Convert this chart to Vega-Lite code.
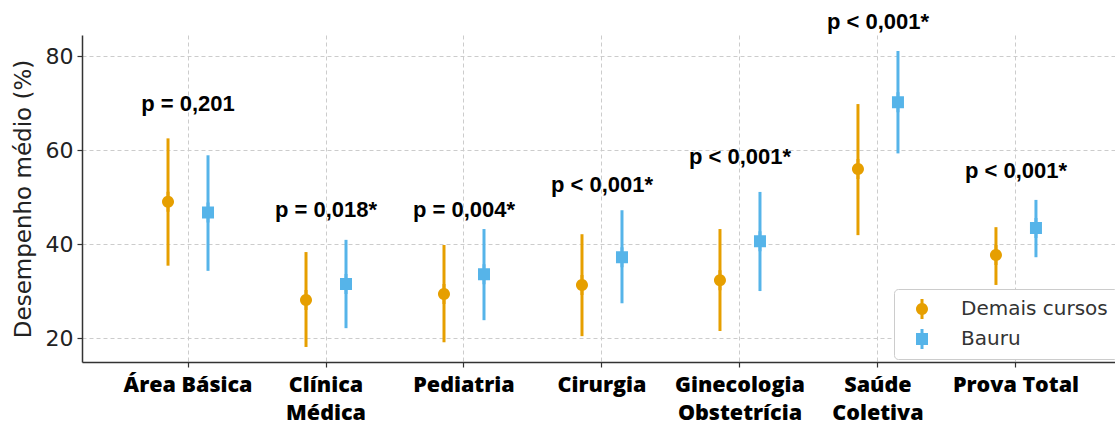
{
  "$schema": "https://vega.github.io/schema/vega-lite/v6.json",
  "width": 1033,
  "height": 327,
  "autosize": {"type": "none"},
  "padding": {"left": 82, "top": 35, "right": 0, "bottom": 63},
  "background": "white",
  "config": {
    "view": {"stroke": null},
    "axis": {
      "gridColor": "#cccccc",
      "gridDash": [4, 3],
      "gridWidth": 1,
      "domainColor": "#333333",
      "domainWidth": 1.5,
      "tickColor": "#333333",
      "tickSize": 5,
      "tickWidth": 1.2
    },
    "legend": {
      "orient": "none",
      "legendX": 812,
      "legendY": 254,
      "title": null,
      "fillColor": "white",
      "strokeColor": "#cccccc",
      "cornerRadius": 4,
      "padding": 10,
      "rowPadding": 10,
      "symbolSize": 400,
      "symbolStrokeWidth": 0,
      "symbolOpacity": 1,
      "symbolOffset": 8,
      "labelOffset": 29,
      "labelFont": "DejaVu Sans",
      "labelFontSize": 20,
      "labelColor": "#333333"
    }
  },
  "datasets": {
    "stats": [
      {"area": "Área Básica", "grupo": "Demais cursos", "media": 49.0, "lo": 35.4, "hi": 62.5},
      {"area": "Área Básica", "grupo": "Bauru", "media": 46.7, "lo": 34.3, "hi": 58.9},
      {"area": "Clínica Médica", "grupo": "Demais cursos", "media": 28.1, "lo": 18.1, "hi": 38.3},
      {"area": "Clínica Médica", "grupo": "Bauru", "media": 31.5, "lo": 22.1, "hi": 40.9},
      {"area": "Pediatria", "grupo": "Demais cursos", "media": 29.4, "lo": 19.1, "hi": 39.8},
      {"area": "Pediatria", "grupo": "Bauru", "media": 33.6, "lo": 23.8, "hi": 43.2},
      {"area": "Cirurgia", "grupo": "Demais cursos", "media": 31.3, "lo": 20.4, "hi": 42.1},
      {"area": "Cirurgia", "grupo": "Bauru", "media": 37.2, "lo": 27.4, "hi": 47.2},
      {"area": "Ginecologia Obstetrícia", "grupo": "Demais cursos", "media": 32.3, "lo": 21.5, "hi": 43.2},
      {"area": "Ginecologia Obstetrícia", "grupo": "Bauru", "media": 40.6, "lo": 30.0, "hi": 51.1},
      {"area": "Saúde Coletiva", "grupo": "Demais cursos", "media": 56.0, "lo": 41.9, "hi": 69.8},
      {"area": "Saúde Coletiva", "grupo": "Bauru", "media": 70.2, "lo": 59.3, "hi": 81.1},
      {"area": "Prova Total", "grupo": "Demais cursos", "media": 37.7, "lo": 31.3, "hi": 43.6},
      {"area": "Prova Total", "grupo": "Bauru", "media": 43.4, "lo": 37.2, "hi": 49.4}
    ],
    "pvals": [
      {"area": "Área Básica", "texto": "p = 0,201", "ypos": 69.8},
      {"area": "Clínica Médica", "texto": "p = 0,018*", "ypos": 47.2},
      {"area": "Pediatria", "texto": "p = 0,004*", "ypos": 47.2},
      {"area": "Cirurgia", "texto": "p < 0,001*", "ypos": 52.6},
      {"area": "Ginecologia Obstetrícia", "texto": "p < 0,001*", "ypos": 58.5},
      {"area": "Saúde Coletiva", "texto": "p < 0,001*", "ypos": 87.2},
      {"area": "Prova Total", "texto": "p < 0,001*", "ypos": 55.5}
    ]
  },
  "encoding": {
    "x": {
      "field": "area",
      "type": "nominal",
      "sort": null,
      "scale": {"type": "band", "paddingInner": 0, "paddingOuter": 0.243, "align": 0.552,
        "domain": ["Área Básica", "Clínica Médica", "Pediatria", "Cirurgia", "Ginecologia Obstetrícia", "Saúde Coletiva", "Prova Total"]},
      "axis": {
        "title": null,
        "grid": true,
        "labelAngle": 0,
        "labelFont": "Open Sans",
        "labelFontWeight": 800,
        "labelFontSize": 21.5,
        "labelColor": "#000000",
        "labelPadding": 7,
        "labelLineHeight": 28,
        "labelBaseline": "top",
        "labelExpr": "indexof(['Área Básica','Prova Total'], datum.label) >= 0 ? datum.label : split(datum.label, ' ')"
      }
    },
    "xOffset": {"field": "grupo", "type": "nominal", "scale": {"type": "band", "domain": ["Demais cursos", "Bauru"], "paddingInner": 0, "paddingOuter": 0.725}}
  },
  "layer": [
    {
      "data": {"name": "stats"},
      "mark": {"type": "rule", "strokeWidth": 3},
      "encoding": {
        "y": {
          "field": "lo",
          "type": "quantitative",
          "scale": {"domain": [14.9, 84.5], "nice": false, "zero": false},
          "axis": {
            "title": "Desempenho médio (%)",
            "values": [20, 40, 60, 80],
            "grid": true,
            "labelFont": "DejaVu Sans",
            "labelFontSize": 22,
            "labelColor": "#222222",
            "labelPadding": 4,
            "titleFont": "DejaVu Sans",
            "titleFontSize": 23,
            "titleFontWeight": "normal",
            "titleColor": "#222222",
            "titlePadding": 10
          }
        },
        "y2": {"field": "hi"},
        "color": {"field": "grupo", "type": "nominal", "scale": {"domain": ["Demais cursos", "Bauru"], "range": ["#E69F00", "#56B4E9"]}}
      }
    },
    {
      "data": {"name": "stats"},
      "mark": {"type": "point", "filled": true, "opacity": 1, "size": 400, "strokeWidth": 0},
      "encoding": {
        "y": {"field": "media", "type": "quantitative"},
        "shape": {"field": "grupo", "type": "nominal", "scale": {"domain": ["Demais cursos", "Bauru"], "range": ["M-0.15,-1H0.15V1H-0.15Z M-0.6,0A0.6,0.6 0 1,1 0.6,0A0.6,0.6 0 1,1 -0.6,0Z", "M-0.15,-1H0.15V1H-0.15Z M-0.6,-0.6H0.6V0.6H-0.6Z"]}},
        "color": {
          "field": "grupo",
          "type": "nominal",
          "scale": {"domain": ["Demais cursos", "Bauru"], "range": ["#E69F00", "#56B4E9"]}
        }
      }
    },
    {
      "data": {"name": "pvals"},
      "mark": {"type": "text", "font": "Liberation Sans", "fontWeight": "bold", "fontSize": 22, "color": "#000000", "baseline": "middle", "align": "center"},
      "encoding": {
        "xOffset": null,
        "y": {"field": "ypos", "type": "quantitative"},
        "text": {"field": "texto"}
      }
    }
  ]
}
